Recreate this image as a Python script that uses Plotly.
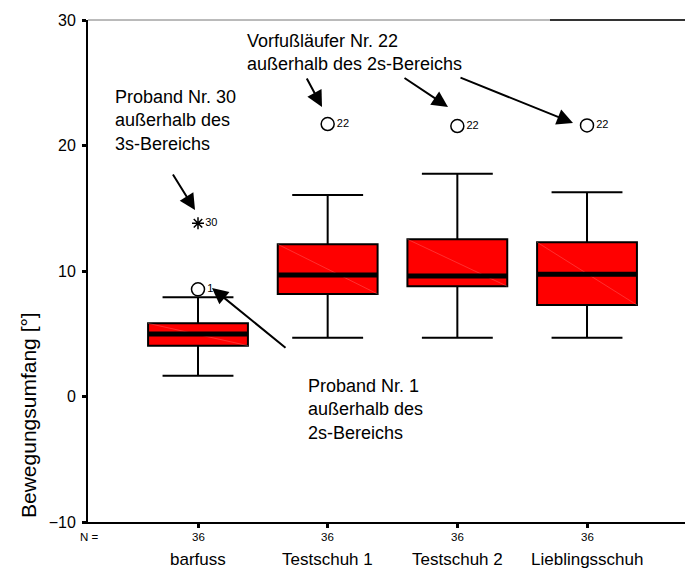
import plotly.graph_objects as go

# ---------------- data ----------------
categories = ["barfuss", "Testschuh 1", "Testschuh 2", "Lieblingsschuh"]
n_values = [36, 36, 36, 36]
lower_whisker = [1.66, 4.69, 4.69, 4.69]
q1_values = [4.05, 8.17, 8.78, 7.29]
median_values = [4.98, 9.68, 9.60, 9.74]
q3_values = [5.83, 12.13, 12.53, 12.29]
upper_whisker = [7.90, 16.06, 17.75, 16.27]

outlier_cats = ["barfuss", "Testschuh 1", "Testschuh 2", "Lieblingsschuh"]
outlier_vals = [8.54, 21.71, 21.55, 21.60]
outlier_ids = ["1", "22", "22", "22"]

extreme_cats = ["barfuss"]
extreme_vals = [13.8]
extreme_ids = ["30"]

y_ticks = [-10, 0, 10, 20, 30]

# ---------------- styling ----------------
FONT = "Arial, Liberation Sans, sans-serif"
W, H = 685, 568
L, R, T, B = 88, 0, 20, 46
PW, PH = W - L - R, H - T - B
BOX_W = 0.77

def px_x(px):
    return (px - L) / PW

def px_y(py):
    return (H - B - py) / PH

fig = go.Figure()

fig.add_trace(go.Box(
    x=categories, q1=q1_values, median=median_values, q3=q3_values,
    lowerfence=lower_whisker, upperfence=upper_whisker,
    boxpoints=False, fillcolor="#ff0000",
    line=dict(color="black", width=2), whiskerwidth=0.71,
    width=BOX_W, showlegend=False, hoverinfo="skip",
))

fig.add_trace(go.Scatter(
    x=outlier_cats, y=outlier_vals, mode="markers+text",
    text=outlier_ids, textposition="middle right",
    textfont=dict(family=FONT, size=11, color="black"),
    marker=dict(symbol="circle-open", size=13, color="black", line=dict(width=1.5)),
    showlegend=False, hoverinfo="skip",
))

fig.add_trace(go.Scatter(
    x=extreme_cats, y=extreme_vals, mode="markers+text",
    text=extreme_ids, textposition="middle right",
    textfont=dict(family=FONT, size=11, color="black"),
    marker=dict(symbol="asterisk-open", size=10, color="black", line=dict(width=1.5)),
    showlegend=False, hoverinfo="skip",
))

shapes = []
for i in range(len(categories)):
    # faint diagonal artefact inside box
    shapes.append(dict(type="line", xref="x", yref="y",
                       x0=i - BOX_W / 2, x1=i + BOX_W / 2,
                       y0=q3_values[i], y1=q1_values[i],
                       line=dict(color="rgba(255,150,150,0.45)", width=0.7)))
for i in range(len(categories)):
    # thick median
    shapes.append(dict(type="line", xref="x", yref="y",
                       x0=i - BOX_W / 2, x1=i + BOX_W / 2,
                       y0=median_values[i], y1=median_values[i],
                       line=dict(color="black", width=5)))
# top frame line
split = px_x(550)
shapes.append(dict(type="line", xref="paper", yref="paper", x0=0, x1=split, y0=1, y1=1,
                   line=dict(color="#777777", width=1)))
shapes.append(dict(type="line", xref="paper", yref="paper", x0=split, x1=1, y0=1, y1=1,
                   line=dict(color="#333333", width=2)))

annotations = []
# text blocks
txt_font = dict(family=FONT, size=18, color="black")
annotations.append(dict(xref="paper", yref="paper", x=px_x(113), y=px_y(120),
                        xanchor="left", yanchor="middle", align="left", showarrow=False,
                        text="Proband Nr. 30<br>außerhalb des<br>3s-Bereichs", font=txt_font))
annotations.append(dict(xref="paper", yref="paper", x=px_x(245), y=px_y(52),
                        xanchor="left", yanchor="middle", align="left", showarrow=False,
                        text="Vorfußläufer Nr. 22<br>außerhalb des 2s-Bereichs", font=txt_font))
annotations.append(dict(xref="paper", yref="paper", x=px_x(306), y=px_y(409),
                        xanchor="left", yanchor="middle", align="left", showarrow=False,
                        text="Proband Nr. 1<br>außerhalb des<br>2s-Bereichs", font=txt_font))

# arrows (tail pixel -> tip pixel)
arrows = [((172, 173), (195, 210)),
          ((287, 349), (212, 288)),
          ((306, 77), (322, 107)),
          ((403, 77), (448, 107)),
          ((459, 77), (573, 123))]
for (tx, ty), (hx, hy) in arrows:
    annotations.append(dict(xref="paper", yref="paper", x=px_x(hx), y=px_y(hy),
                            ax=tx - hx, ay=ty - hy, text="", showarrow=True,
                            arrowhead=2, arrowsize=1.6, arrowwidth=2, arrowcolor="black",
                            standoff=0))

# y title
annotations.append(dict(xref="paper", yref="paper", x=px_x(28), y=px_y(415),
                        xanchor="center", yanchor="middle", textangle=-90, showarrow=False,
                        text="Bewegungsumfang [°]", font=dict(family=FONT, size=21, color="black")))
# N labels
annotations.append(dict(xref="paper", yref="paper", x=px_x(89), y=px_y(537),
                        xanchor="center", yanchor="middle", showarrow=False,
                        text="N =", font=dict(family=FONT, size=11.5, color="black")))
for cat, n in zip(categories, n_values):
    annotations.append(dict(xref="x", yref="paper", x=cat, y=px_y(537),
                            xanchor="center", yanchor="middle", showarrow=False,
                            text=str(n), font=dict(family=FONT, size=11.5, color="black")))
    annotations.append(dict(xref="x", yref="paper", x=cat, y=px_y(559),
                            xanchor="center", yanchor="middle", showarrow=False,
                            text=cat, font=dict(family=FONT, size=17, color="black")))

x0 = -(198 - L) / 129.67
x1 = (W - 198) / 129.67

fig.update_layout(
    width=W, height=H,
    margin=dict(l=L, r=R, t=T, b=B, pad=0),
    paper_bgcolor="white", plot_bgcolor="white",
    font=dict(family=FONT, color="black"),
    shapes=shapes, annotations=annotations,
    xaxis=dict(type="category", categoryorder="array", categoryarray=categories,
               range=[x0, x1], showgrid=False, zeroline=False,
               showline=True, linecolor="black", linewidth=2,
               ticks="outside", ticklen=4, tickwidth=3, tickcolor="black",
               showticklabels=False, fixedrange=True, automargin=False),
    yaxis=dict(range=[-10, 30], tickvals=y_ticks, showgrid=False, zeroline=False,
               showline=True, linecolor="black", linewidth=2,
               ticks="outside", ticklen=4, tickwidth=3, tickcolor="black",
               tickfont=dict(family=FONT, size=16, color="black"),
               ticklabelstandoff=3, fixedrange=True, automargin=False),
)

fig.write_html("out.html", config={"displayModeBar": False},
               post_script="document.body.style.margin='0px';document.body.style.overflow='hidden';")
